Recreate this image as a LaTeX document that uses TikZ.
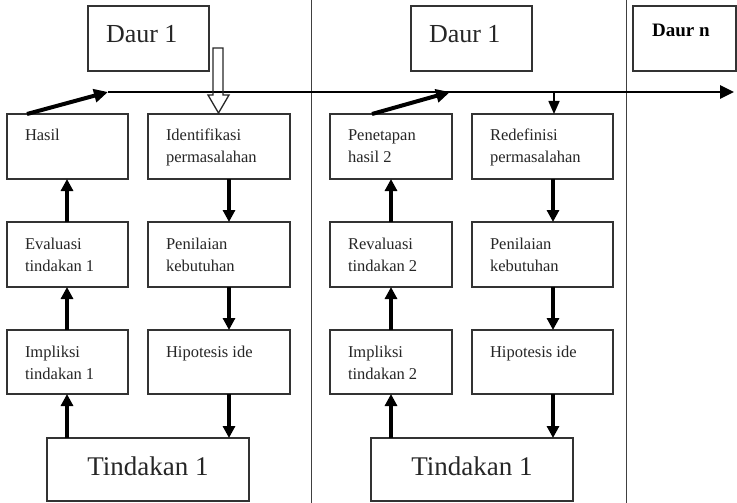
\documentclass[tikz,border=0pt]{standalone}
\usepackage{fontspec}
\setmainfont{Liberation Serif}
\usetikzlibrary{arrows.meta}
\tikzset{
  box/.style={draw=black!80, line width=1.4pt, inner sep=0pt, outer sep=0pt},
  txt/.style={inner sep=0pt, outer sep=0pt, align=left, font=\fontsize{16.5}{22}\selectfont, text=black!85, anchor=base west},
  big/.style={inner sep=0pt, outer sep=0pt, font=\fontsize{26}{30}\selectfont, text=black!85},
  thickarr/.style={line width=3.5pt, -{Triangle[length=12pt,width=12pt]}},
  divider/.style={draw=black!75, line width=1.1pt},
}
\newcommand\mybox[5]{\node[box, minimum width={#4-#2}, minimum height={#5-#3}] (#1) at ({(#2+#4)/2},{(#3+#5)/2}) {};}
\begin{document}
\begin{tikzpicture}[x=1pt,y=-1pt]
\useasboundingbox (0,0) rectangle (737,503);
% dividers
\draw[divider] (311.5,0) coordinate (d1t) -- (311.5,503) coordinate (d1b);
\draw[divider] (626.5,0) coordinate (d2t) -- (626.5,503) coordinate (d2b);
% top boxes
\mybox{daura}{88}{6}{209}{71}
\mybox{daurb}{411}{6}{532}{71}
\mybox{daurn}{633}{6}{736}{71}
\node[big, anchor=base west] (tdaura) at (106,43) {Daur 1};
\node[big, anchor=base west] (tdaurb) at (429,43) {Daur 1};
\node[inner sep=0pt, font=\fontsize{19}{22}\selectfont\bfseries, anchor=base west] (tdaurn) at (652,37) {Daur n};
% cycle 1 boxes
\mybox{hasil}{7}{114}{128}{179}
\mybox{ident}{148}{114}{290}{179}
\mybox{evala}{7}{222}{128}{287}
\mybox{penila}{148}{222}{290}{287}
\mybox{impla}{7}{330}{128}{394}
\mybox{hipoa}{148}{330}{290}{394}
\mybox{tinda}{47}{438}{249}{501}
% cycle 2 boxes
\mybox{penet}{330}{114}{452}{179}
\mybox{redef}{472}{114}{613}{179}
\mybox{revalb}{330}{222}{452}{287}
\mybox{penilb}{472}{222}{613}{287}
\mybox{implb}{330}{330}{452}{394}
\mybox{hipob}{472}{330}{613}{394}
\mybox{tindb}{371}{438}{573}{501}
% texts (base anchor = last line baseline)
\node[txt] (thasil) at ([xshift=18pt,yshift=-26pt]hasil.north west) {Hasil};
\node[txt] (tident) at ([xshift=18pt,yshift=-48pt]ident.north west) {Identifikasi\\permasalahan};
\node[txt] (tevala) at ([xshift=18pt,yshift=-49pt]evala.north west) {Evaluasi\\tindakan 1};
\node[txt] (tpenila) at ([xshift=18pt,yshift=-49pt]penila.north west) {Penilaian\\kebutuhan};
\node[txt] (timpla) at ([xshift=18pt,yshift=-49pt]impla.north west) {Impliksi\\tindakan 1};
\node[txt] (thipoa) at ([xshift=18pt,yshift=-27pt]hipoa.north west) {Hipotesis ide};
\node[txt] (tpenet) at ([xshift=18pt,yshift=-48pt]penet.north west) {Penetapan\\hasil 2};
\node[txt] (tredef) at ([xshift=18pt,yshift=-48pt]redef.north west) {Redefinisi\\permasalahan};
\node[txt] (trevalb) at ([xshift=18pt,yshift=-49pt]revalb.north west) {Revaluasi\\tindakan 2};
\node[txt] (tpenilb) at ([xshift=18pt,yshift=-49pt]penilb.north west) {Penilaian\\kebutuhan};
\node[txt] (timplb) at ([xshift=18pt,yshift=-49pt]implb.north west) {Impliksi\\tindakan 2};
\node[txt] (thipob) at ([xshift=18pt,yshift=-27pt]hipob.north west) {Hipotesis ide};
\node[big, font=\fontsize{27}{30}\selectfont, anchor=base] (ttinda) at (148,475) {Tindakan 1};
\node[big, font=\fontsize{27}{30}\selectfont, anchor=base] (ttindb) at (472,475) {Tindakan 1};
% timeline
\coordinate (tl0) at (108,92);
\coordinate (tl1) at (450,92);
\coordinate (tlend) at (734,92);
\draw[line width=2.6pt, -{Triangle[length=14pt,width=13pt]}] (tl0) -- (tlend);
\draw[line width=4pt, -{Triangle[length=14pt,width=13pt]}] ([xshift=20pt]hasil.north west) -- (tl0);
\draw[line width=4pt, -{Triangle[length=14pt,width=13pt]}] ([xshift=42pt]penet.north west) -- (tl1);
% hollow arrow from Daur 1
\draw[line width=1.3pt, black!85, line join=miter]
  ([xshift=4pt,yshift=-42pt]daura.north east) -- ++(10,0) -- ++(0,47) -- ++(6,0)
  -- ++(-10.5,18) -- ++(-10.5,-18) -- ++(5,0) -- cycle;
% down arrow to Redefinisi
\coordinate (c2r) at (554,0);
\draw[line width=1.6pt, -{Triangle[length=13pt,width=11pt]}] (c2r |- tl0) -- (redef.north -| c2r);
% column coordinates
\coordinate (L1) at (67,0);
\coordinate (R1) at (229,0);
\coordinate (L2) at (391,0);
\coordinate (R2) at (553,0);
% cycle 1 arrows
\draw[thickarr] (evala.north -| L1) -- (hasil.south -| L1);
\draw[thickarr] (impla.north -| L1) -- (evala.south -| L1);
\draw[thickarr] (tinda.north -| L1) -- (impla.south -| L1);
\draw[thickarr] (ident.south -| R1) -- (penila.north -| R1);
\draw[thickarr] (penila.south -| R1) -- (hipoa.north -| R1);
\draw[thickarr] (hipoa.south -| R1) -- (tinda.north -| R1);
% cycle 2 arrows
\draw[thickarr] (revalb.north -| L2) -- (penet.south -| L2);
\draw[thickarr] (implb.north -| L2) -- (revalb.south -| L2);
\draw[thickarr] (tindb.north -| L2) -- (implb.south -| L2);
\draw[thickarr] (redef.south -| R2) -- (penilb.north -| R2);
\draw[thickarr] (penilb.south -| R2) -- (hipob.north -| R2);
\draw[thickarr] (hipob.south -| R2) -- (tindb.north -| R2);
\end{tikzpicture}
\end{document}
